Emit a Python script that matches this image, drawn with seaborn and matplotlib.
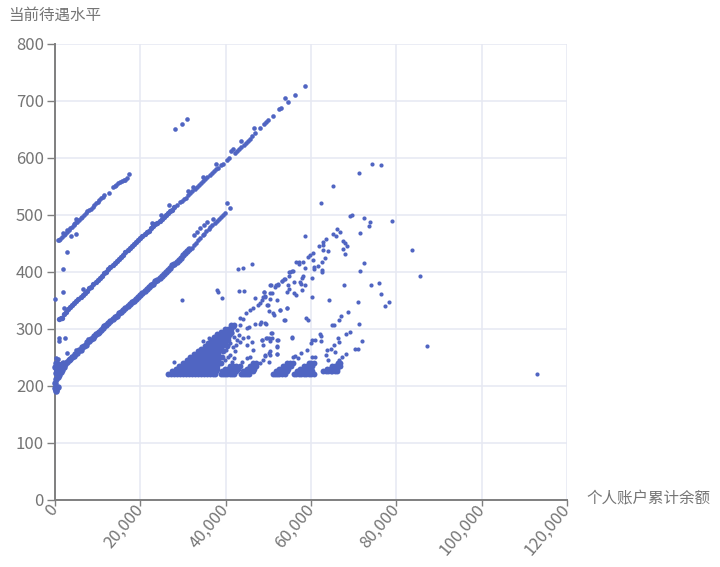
import matplotlib
matplotlib.use("Agg")
import matplotlib.pyplot as plt
from matplotlib.ticker import FuncFormatter
import pandas as pd
import seaborn as sns

x_ticks = [0, 20000, 40000, 60000, 80000, 100000, 120000]
y_ticks = [0, 100, 200, 300, 400, 500, 600, 700, 800]
x_name = "个人账户累计余额"
y_name = "当前待遇水平"

# blob at the origin
blob_x = [0, 300, 600, 200, 100, 300, 700, 200, 600, 1000, 100, 500, 900, 1300, 300, 800, 1200, 400, 1700, 1500, 2000, 1900]
blob_y = [196, 190, 197, 192, 205, 212, 215, 222, 224, 218, 232, 236, 230, 224, 240, 238, 234, 228, 228, 237, 233, 240]

# the three diagonal bands, solid part only
band1_x = [800, 1200, 1600, 2000, 2400, 2800, 3200, 3600, 4000, 4400, 4800, 5200, 5600, 6000, 6400, 6800, 7200, 7600, 8000, 8400,
           8800, 9200, 9600, 10000, 10400, 10800, 11200, 11600, 12700, 13600, 14000, 14400, 14800, 15200, 15700, 16100, 16500, 16900]
band1_y = [456, 458, 461, 464, 467, 470, 473, 476, 479, 482, 485, 488, 491, 494, 497, 500, 503, 506, 509, 511,
           514, 517, 520, 523, 526, 529, 532, 534, 538, 549, 551, 553, 555, 557, 559, 561, 562, 564]

band2_x = [900, 1300, 1700, 2000, 2500, 3000, 3500, 4000, 4500, 5000, 5500, 6000, 6500, 7000, 7500, 8000, 8500, 9000, 9500, 10000,
           10500, 11000, 11500, 12000, 12500, 13000, 13500, 14000, 14500, 15000, 15500, 16000, 16500, 17000, 17500, 18000, 18500, 19000, 19500, 20000,
           20500, 21000, 21500, 22000, 22500, 23000, 23500, 24000, 24500, 25000, 25500, 26000, 26500, 27000, 27500, 28000]
band2_y = [317, 319, 318, 326, 330, 334, 338, 341, 345, 349, 353, 355, 360, 363, 367, 371, 374, 378, 382, 386,
           389, 393, 397, 400, 404, 408, 411, 415, 419, 423, 426, 430, 434, 438, 441, 445, 449, 452, 456, 460,
           463, 467, 470, 472, 476, 480, 483, 486, 490, 493, 497, 500, 504, 507, 509, 513]

band3_x = [2400, 2800, 3200, 3600, 4000, 4400, 4800, 5200, 5600, 6000, 6400, 6800, 7200, 7600, 8000, 8400, 8800, 9200, 9600, 10000,
           10400, 10800, 11200, 11600, 12000, 12500, 13000, 13500, 14000, 14500, 15000, 15500, 16000, 16500, 17000, 17500, 18000, 18500, 19000, 19500,
           20000, 20500, 21000, 21500, 22000, 22500, 23000, 23500, 24000, 24500, 25000, 25500, 26000, 26500, 27000, 27500, 28000, 28500, 29000, 29500,
           30000, 30500, 31000, 31500]
band3_y = [238, 242, 245, 247, 250, 252, 256, 258, 262, 263, 267, 270, 272, 276, 278, 282, 284, 287, 291, 293,
           295, 298, 301, 304, 306, 310, 314, 317, 320, 323, 327, 330, 333, 337, 340, 343, 347, 349, 352, 356,
           359, 362, 366, 369, 373, 376, 379, 383, 386, 389, 393, 396, 400, 403, 407, 411, 414, 418, 421, 425,
           429, 433, 436, 440]

# dense clusters along the bottom, one row per level
row_levels = [220, 225, 230, 235, 240, 245, 250, 255, 260, 265, 270, 275, 280, 285, 290, 295, 300, 306]
row_values = [
    [26500, 27200, 27900, 28600, 29300, 30000, 30700, 31400, 32100, 32800, 33500, 34200, 34900, 35600, 36300, 37000, 37600,
     38800, 39300, 39800, 40300, 40900, 41500, 42000, 43500, 44000, 44500, 45000, 45500,
     51000, 51500, 52000, 52600, 53200, 53800, 55900, 56500, 57100, 57700, 58300, 58900, 59500, 60100, 60700],
    [27400, 28200, 29000, 29800, 30600, 31400, 32200, 33000, 33800, 34600, 35400, 36200, 37000, 37800,
     39200, 39900, 40600, 41200, 41900, 42500, 44000, 44600, 45200, 45800, 46300,
     51700, 52400, 53000, 53700, 54300, 56700, 57300, 57900, 58500, 59100, 59700, 60300,
     62800, 63400, 64000, 64600, 65000, 65600, 66200],
    [28300, 29100, 29900, 30700, 31500, 32300, 33100, 33900, 34700, 35500, 36300, 37100, 38000,
     39900, 40600, 41300, 42100, 42900, 44900, 45500, 46100, 46700,
     52500, 53200, 53900, 54600, 57500, 58100, 58700, 59300, 59900, 63800, 64400, 65000, 65600, 66200],
    [29100, 29900, 30700, 31500, 32300, 33100, 33900, 34700, 35500, 36300, 37100, 37900,
     41000, 41800, 42500, 43300, 45800, 46400, 47000, 53400, 54100, 54800, 55400, 58400, 59000, 59600, 60200, 65000, 65600, 66200, 66800],
    [30000, 30800, 31600, 32400, 33200, 34000, 34800, 35600, 36400, 37200, 38000, 38900,
     46500, 47100, 54400, 55000, 55700, 59500, 60100, 60700, 66400, 66700],
    [30900, 31700, 32500, 33300, 34100, 34900, 35700, 36500, 37300, 38100],
    [31700, 32500, 33300, 34100, 34900, 35700, 36500, 37300, 38100, 39200],
    [32600, 33400, 34200, 35000, 35800, 36600, 37400, 38200],
    [33400, 34200, 35000, 35800, 36600, 37400, 38200, 39400],
    [34300, 35100, 35900, 36700, 37500, 38300, 39000],
    [35100, 35900, 36700, 37500, 38300, 39100, 40200],
    [35900, 36700, 37500, 38300, 39100, 39900],
    [36500, 37300, 38100, 38900, 39700, 40500],
    [37200, 38000, 38800, 39600, 40400],
    [38000, 38800, 39600, 40400, 41100],
    [38800, 39600, 40400, 41200],
    [39800, 40500, 41300],
    [41200, 42000],
]

# thinner upper parts of the bands, stray points near them
upper_x = [17300, 600, 0, 1800, 1900, 2900, 900, 900, 2300, 900, 2700, 300,
           5100, 3800, 5000, 1800, 2700, 5000, 4500,
           28700, 29200, 29700, 30200, 30700, 31200, 31700, 32200, 32700, 33200, 33700, 34200, 34700, 35200, 35700, 36300, 36800, 37300, 37800, 38300, 39000, 39400, 40300, 40800,
           42200, 42700, 43200, 43700, 44200, 44700, 45200, 45700, 46200, 46900, 49000, 49400, 50000, 51000, 52500, 52900, 54500,
           2200, 6500, 22800, 24800, 26700, 34700, 37800, 32400, 31200, 41300, 41700, 43500, 46600, 48000, 54000, 56200, 58600, 28100, 29800, 30900,
           32000, 32600, 33000, 33500, 34000, 34600, 35000, 35500, 36000, 36400, 36900, 37400, 37900, 38400, 38900, 39400, 39800,
           5000, 7700, 32500, 33200, 34000, 34900, 35700, 37000, 40300, 41000]
upper_y = [572, 247, 352, 365, 405, 434, 455, 283, 283, 279, 257, 248,
           491, 463, 466, 468, 474, 493, 483,
           517, 522, 524, 527, 530, 534, 538, 541, 545, 548, 552, 556, 559, 563, 566, 570, 573, 577, 580, 583, 587, 590, 597, 600,
           609, 612, 616, 619, 623, 626, 630, 634, 638, 644, 659, 663, 667, 673, 685, 687, 698,
           337, 369, 485, 500, 517, 566, 589, 549, 541, 612, 615, 629, 652, 653, 705, 710, 727, 650, 659, 668,
           442, 447, 450, 455, 459, 464, 467, 471, 475, 478, 482, 486, 489, 492, 496, 500, 503,
           263, 282, 465, 470, 477, 482, 487, 493, 520, 512]

# loose points in the right hand part
loose_x = [74400, 76300, 71250, 65080, 62340, 69140, 69600, 72400, 73800, 73500, 79100, 71400, 66000, 66800, 65100, 65900, 58600,
           63500, 62900, 67400, 67900, 68500, 61800, 62700, 67400, 67900, 62700, 64100, 60500, 59800, 59200, 63300, 60500, 62600,
           72400, 83600, 85500, 71500, 57300, 56400, 58200, 58600, 57300, 60800, 61700, 60800, 62500, 62500, 60300, 58200, 57800,
           57400, 58600, 57600, 57900, 55600, 54900, 54800, 53750, 53100, 52350, 51800, 50600, 56000, 54700, 54900, 54450, 56000,
           56400, 60150, 67700, 74100, 75900, 76300, 78200, 77350, 71100, 64300, 68700, 67100, 66600, 65400, 64900, 71150, 58800,
           59200, 53750, 54450, 52750, 51400, 51200, 50200, 49800, 49200, 48200, 52000, 50400, 50800, 49000, 48800, 49200, 48050,
           50000, 87100, 69100, 68200, 72000, 70900, 70400, 68100, 67300, 66600, 66250, 66550, 65500, 64800, 63800, 65600, 63400,
           64100, 62100, 62350, 60950, 60150, 62250, 59900, 59000, 57600, 55500, 52200, 50600, 50200, 50400, 49450, 48450, 48700,
           52100, 51950, 50400, 50200, 49200, 48700, 50200, 37890, 38100, 39060, 29770, 42970, 43980, 46090, 43200, 44220, 43360,
           44140, 44760, 45700, 46870, 46480, 47650, 48430, 49060, 49200, 50400, 50400, 51550, 52340, 53120, 53900, 55080, 55850,
           45070, 45540, 44140, 45310, 46090, 44920, 46480, 45700, 48040, 46870, 49450, 48430, 49600, 50780, 50780, 52100, 52100,
           51950, 50400, 49200, 48040, 44920, 43750, 42420, 43360, 42180, 43200, 42570, 43360, 41950, 41010, 39840, 41400, 39060,
           40620, 41950, 55460, 53900, 54450, 52730, 113000, 27900, 34770, 36000,
           40000, 41000, 41800, 40500, 42000, 41300, 55700, 56300, 57000, 60300, 61000, 42600, 40800, 41600]
loose_y = [589, 587, 573, 550, 520, 498, 499, 495, 488, 481, 489, 468, 475, 470, 467, 463, 462,
           457, 453, 454, 451, 446, 445, 447, 440, 432, 438, 436, 433, 429, 426, 425, 421, 418,
           415, 438, 393, 401, 418, 418, 417, 407, 413, 409, 410, 405, 403, 400, 389, 393, 389,
           382, 377, 378, 368, 401, 400, 393, 387, 383, 379, 377, 377, 382, 377, 369, 365, 362,
           360, 356, 376, 377, 381, 361, 346, 340, 346, 350, 329, 322, 315, 307, 307, 308, 319,
           316, 315, 337, 333, 324, 327, 331, 342, 310, 311, 350, 352, 362, 365, 356, 358, 345,
           342, 270, 295, 290, 278, 264, 264, 256, 251, 245, 284, 277, 271, 264, 263, 259, 253,
           245, 291, 287, 280, 280, 279, 275, 263, 257, 285, 280, 292, 284, 279, 283, 281, 271,
           269, 256, 260, 257, 254, 245, 241, 368, 364, 354, 350, 404, 406, 414, 366, 367, 318,
           317, 327, 333, 354, 336, 341, 350, 365, 356, 362, 377, 374, 377, 383, 387, 400, 401,
           302, 303, 283, 286, 277, 271, 262, 251, 309, 308, 309, 281, 283, 292, 283, 280, 268,
           256, 254, 252, 239, 248, 242, 271, 277, 261, 289, 298, 306, 286, 254, 245, 242, 260,
           271, 303, 284, 315, 337, 333, 220, 241, 278, 283,
           262, 275, 268, 250, 248, 232, 250, 252, 249, 251, 250, 281, 286, 293]

rows_x = []
rows_y = []
for level, values in zip(row_levels, row_values):
    for v in values:
        rows_x.append(v)
        rows_y.append(level)

sns.set_theme(style="white")
plt.rcParams["font.family"] = ["Noto Sans CJK SC", "DejaVu Sans"]

fig = plt.figure(figsize=(7.2, 5.67), dpi=100)
ax = fig.add_axes([55 / 720, 1 - 499.5 / 567, 512 / 720, 455.5 / 567])

# each group gets its own marker size, the bands differ in thickness
groups = [
    (blob_x + band3_x, blob_y + band3_y, 22),
    (rows_x, rows_y, 18),
    (band2_x, band2_y, 15),
    (band1_x, band1_y, 11),
    (upper_x, upper_y, 11),
    (loose_x, loose_y, 9),
]
for gx, gy, size in groups:
    part = pd.DataFrame({"balance": gx, "benefit": gy})
    sns.scatterplot(data=part, x="balance", y="benefit", ax=ax, s=size, color="#5065c2",
                    linewidth=0, clip_on=False, zorder=5)

ax.set_xlim(0, 120000)
ax.set_ylim(0, 800)
ax.set_xticks(x_ticks)
ax.set_yticks(y_ticks)
ax.xaxis.set_major_formatter(FuncFormatter(lambda v, p: f"{int(v):,}"))
ax.set_xlabel("")
ax.set_ylabel("")

ax.grid(True, color="#e6e8f2", linewidth=1.1)
ax.set_axisbelow(True)
for s in ["top", "right"]:
    ax.spines[s].set_visible(False)
for s in ["left", "bottom"]:
    ax.spines[s].set_color("#7f7f7f")
    ax.spines[s].set_linewidth(1.4)

ax.tick_params(axis="y", left=True, length=6, width=1.0, color="#7f7f7f", labelsize=12, labelcolor="#757575", pad=2)
ax.tick_params(axis="x", bottom=True, length=4, width=1.0, color="#7f7f7f", labelsize=12, labelcolor="#757575", pad=1)
for label in ax.get_xticklabels():
    label.set_rotation(50)
    label.set_ha("right")
    label.set_va("center")
    label.set_rotation_mode("anchor")

fig.text(8 / 720, 1 - 15 / 567, y_name, fontsize=11.2, color="#757575", va="center", ha="left")
fig.text(586 / 720, 1 - 499 / 567, x_name, fontsize=11.2, color="#757575", va="center", ha="left")

fig.savefig("out.png", dpi=100)
